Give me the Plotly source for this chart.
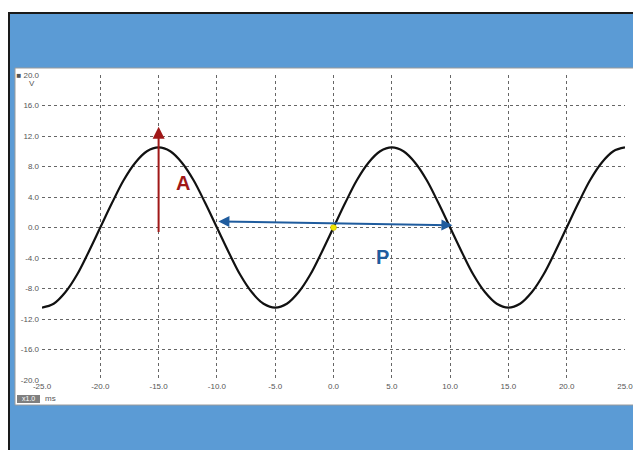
import plotly.graph_objects as go

# ---- data ----
time_ms = [-25, -24, -23, -22, -21, -20, -19, -18, -17, -16, -15, -14, -13, -12, -11,
           -10, -9, -8, -7, -6, -5, -4, -3, -2, -1, 0, 1, 2, 3, 4, 5, 6, 7, 8, 9,
           10, 11, 12, 13, 14, 15, 16, 17, 18, 19, 20, 21, 22, 23, 24, 25]
voltage_v = [-10.5, -10.0, -8.5, -6.2, -3.2, 0.0, 3.2, 6.2, 8.5, 10.0, 10.5, 10.0, 8.5, 6.2, 3.2,
             0.0, -3.2, -6.2, -8.5, -10.0, -10.5, -10.0, -8.5, -6.2, -3.2, 0.0, 3.2, 6.2, 8.5, 10.0,
             10.5, 10.0, 8.5, 6.2, 3.2, 0.0, -3.2, -6.2, -8.5, -10.0, -10.5, -10.0, -8.5, -6.2, -3.2,
             0.0, 3.2, 6.2, 8.5, 10.0, 10.5]

x_ticks = [-25, -20, -15, -10, -5, 0, 5, 10, 15, 20, 25]
x_tick_labels = ["-25.0", "-20.0", "-15.0", "-10.0", "-5.0", "0.0", "5.0", "10.0", "15.0", "20.0", "25.0"]
y_ticks = [-20, -16, -12, -8, -4, 0, 4, 8, 12, 16, 20]
y_tick_labels = ["-20.0", "-16.0", "-12.0", "-8.0", "-4.0", "0.0", "4.0", "8.0", "12.0", "16.0", "■ 20.0"]

amp_arrow = {"x": -15, "y0": -0.8, "y1": 13.2}
period_arrow = {"x0": -10, "y0": 0.8, "x1": 10.2, "y1": 0.3}
origin_point = {"x": [0], "y": [0]}

# ---- layout geometry (reference pixels; page body adds an 8px offset) ----
OFF = 8
W, H = 641 - OFF, 450 - OFF
L, T = 42 - OFF, 75 - OFF
PW, PH = 583, 305
R = W - L - PW
B = H - T - PH

def px(x):
    return (x - OFF - L) / PW

def py(y):
    return 1 - (y - OFF - T) / PH

BLUE = "#5B9BD5"
GRID = "#666666"
LBL = "#555555"
RED = "#A01818"
DBLUE = "#1F5C9E"
FONT = "Liberation Sans, Arial"

fig = go.Figure()

fig.add_trace(go.Scatter(x=time_ms, y=voltage_v, mode="lines",
                         line=dict(color="#111111", width=2.2, shape="spline", smoothing=1.0),
                         hoverinfo="skip", showlegend=False))

fig.add_trace(go.Scatter(x=origin_point["x"], y=origin_point["y"], mode="markers",
                         marker=dict(color="#F2E600", size=6, line=dict(color="#B8A800", width=0.5)),
                         showlegend=False))

shapes = [
    # blue frame
    dict(type="rect", xref="paper", yref="paper", x0=px(9), x1=px(660), y0=py(13), y1=py(470),
         fillcolor=BLUE, line=dict(color="#1A1A1A", width=2), layer="below"),
    # white panel
    dict(type="rect", xref="paper", yref="paper", x0=px(15), x1=px(637), y0=py(68), y1=py(405),
         fillcolor="white", line=dict(color="#9A9A9A", width=1), layer="below"),
    # x1.0 gray box
    dict(type="rect", xref="paper", yref="paper", x0=px(17), x1=px(40), y0=py(395), y1=py(403),
         fillcolor="#7F7F7F", line=dict(width=0), layer="above"),
]

annotations = [
    dict(x=amp_arrow["x"], y=amp_arrow["y1"], ax=amp_arrow["x"], ay=amp_arrow["y0"],
         xref="x", yref="y", axref="x", ayref="y", text="", showarrow=True,
         arrowhead=2, arrowsize=1.2, arrowwidth=2, arrowcolor=RED),
    dict(x=period_arrow["x1"], y=period_arrow["y1"], ax=period_arrow["x0"], ay=period_arrow["y0"],
         xref="x", yref="y", axref="x", ayref="y", text="", showarrow=True,
         arrowhead=2, startarrowhead=2, arrowside="end+start", arrowsize=1.1, startarrowsize=1.1,
         arrowwidth=2, arrowcolor=DBLUE),
    dict(x=-12.9, y=5.8, xref="x", yref="y", text="<b>A</b>", showarrow=False,
         font=dict(family=FONT, size=20, color=RED)),
    dict(x=4.2, y=-3.9, xref="x", yref="y", text="<b>P</b>", showarrow=False,
         font=dict(family=FONT, size=20, color=DBLUE)),
    dict(x=px(37), y=py(84), xref="paper", yref="paper", text="V", showarrow=False,
         xanchor="right", yanchor="middle", font=dict(family=FONT, size=8, color=LBL)),
    dict(x=px(28.5), y=py(399), xref="paper", yref="paper", text="x1.0", showarrow=False,
         xanchor="center", yanchor="middle", font=dict(family=FONT, size=7, color="white")),
    dict(x=px(43), y=py(399), xref="paper", yref="paper", text="ms", showarrow=False,
         xanchor="left", yanchor="middle", font=dict(family=FONT, size=8, color=LBL)),
]

axis_common = dict(showgrid=True, gridcolor=GRID, gridwidth=1, griddash="dot",
                   zeroline=False, showline=False, ticks="", fixedrange=True,
                   automargin=False, ticklabeloverflow="allow",
                   tickfont=dict(family=FONT, size=8, color=LBL))

fig.update_layout(
    width=W, height=H, autosize=False,
    margin=dict(l=L, r=R, t=T, b=B, pad=0, autoexpand=False),
    paper_bgcolor="white",
    plot_bgcolor="rgba(0,0,0,0)",
    shapes=shapes,
    annotations=annotations,
    showlegend=False,
    xaxis=dict(range=[-25, 25], tickvals=x_ticks, ticktext=x_tick_labels, **axis_common),
    yaxis=dict(range=[-20, 20], tickvals=y_ticks, ticktext=y_tick_labels, ticklabelstandoff=2, **axis_common),
)

fig.write_html("out.html", config={"responsive": False})
